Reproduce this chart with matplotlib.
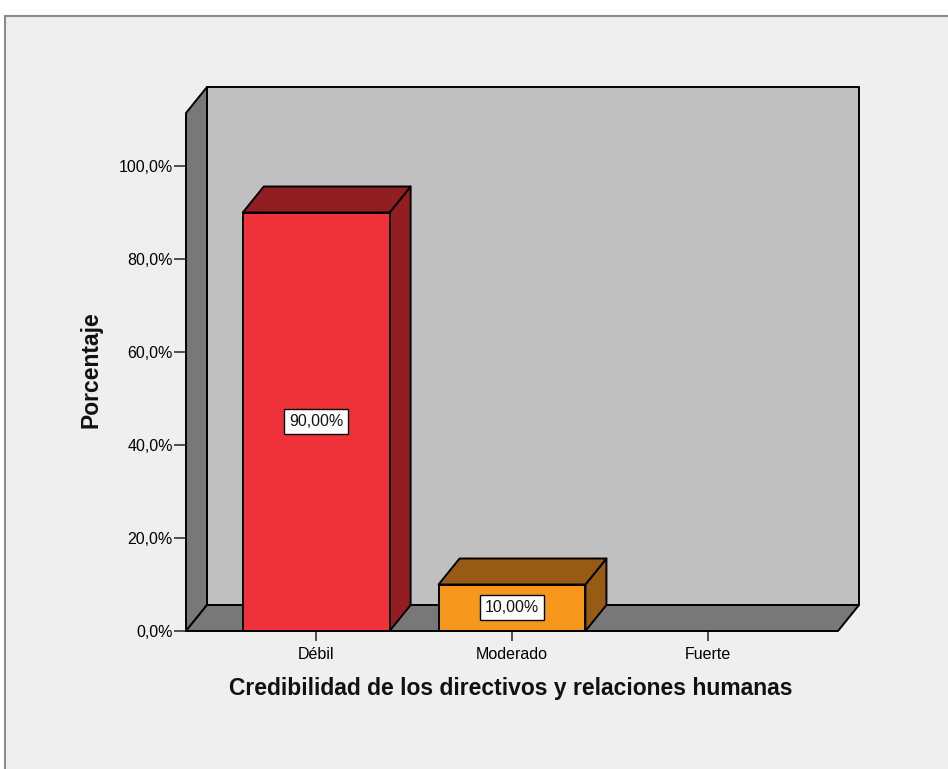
import matplotlib.pyplot as plt
from matplotlib.patches import Polygon, Rectangle

plt.rcParams['font.family'] = ['Liberation Sans', 'DejaVu Sans']

categorias = ['Débil', 'Moderado', 'Fuerte']
porcentajes = [90.0, 10.0, 0.0]
etiquetas = ['90,00%', '10,00%', None]
yticks = [0, 20, 40, 60, 80, 100]
ytick_labels = ['0,0%', '20,0%', '40,0%', '60,0%', '80,0%', '100,0%']

frente = ['#EF3139', '#F7981D', '#7FA0C8']
sombra = ['#921E22', '#985B14', '#4D6A8F']

W, H = 948, 769
fig = plt.figure(figsize=(W / 100, H / 100), dpi=100, facecolor='white')

# grey panel behind the chart
panel = Rectangle((5 / W, -0.05), 1.2, 1 - 16 / H + 0.05,
                  transform=fig.transFigure, facecolor='#EFEFEF',
                  edgecolor='#8C8C8C', linewidth=1.5)
panel.set_zorder(-10)
fig.add_artist(panel)

ax = fig.add_axes([186 / W, (H - 631) / H, 652 / W, 518 / H])
ax.set_facecolor('none')
x0, x1 = -0.665, 2.665
ytop = 111.4
ax.set_xlim(x0, x1)
ax.set_ylim(0, ytop)

# depth of the 3D effect in data units
dx = 21 / (652 / (x1 - x0))
dy = 26 / (518 / ytop)

def poly(pts, fc, z):
    ax.add_patch(Polygon(pts, closed=True, facecolor=fc, edgecolor='black',
                         linewidth=1.4, joinstyle='round', clip_on=False, zorder=z))

# walls and floor
poly([(x0 + dx, dy), (x1 + dx, dy), (x1 + dx, ytop + dy), (x0 + dx, ytop + dy)], '#C0C0C0', 1)
poly([(x0, 0), (x0 + dx, dy), (x0 + dx, ytop + dy), (x0, ytop)], '#787878', 2)
poly([(x0, 0), (x1, 0), (x1 + dx, dy), (x0 + dx, dy)], '#787878', 2)

# bars
hw = 0.375
for i, v in enumerate(porcentajes):
    if v <= 0:
        continue
    l, r = i - hw, i + hw
    poly([(r, 0), (r + dx, dy), (r + dx, v + dy), (r, v)], sombra[i], 3)
    poly([(l, v), (r, v), (r + dx, v + dy), (l + dx, v + dy)], sombra[i], 3)
    poly([(l, 0), (r, 0), (r, v), (l, v)], frente[i], 4)
    if etiquetas[i]:
        ax.text(i, v / 2, etiquetas[i], ha='center', va='center', fontsize=11.5,
                color='#111111', zorder=6,
                bbox=dict(boxstyle='square,pad=0.3', facecolor='white',
                          edgecolor='black', linewidth=1.0))

for s in ax.spines.values():
    s.set_visible(False)

ax.set_yticks(yticks)
ax.set_yticklabels(ytick_labels)
ax.set_xticks(range(len(categorias)))
ax.set_xticklabels(categorias)
ax.tick_params(axis='y', length=8.6, width=1.2, pad=1, labelsize=11.5, color='#333333')
ax.tick_params(axis='x', length=7.2, width=1.2, pad=4, labelsize=11.5, color='#333333')

fig.text(511 / W, 1 - 689 / H, 'Credibilidad de los directivos y relaciones humanas',
         ha='center', va='center', fontsize=16.5, fontweight='bold', color='#111111')
fig.text(91 / W, 1 - 370 / H, 'Porcentaje', ha='center', va='center', rotation=90,
         fontsize=16.5, fontweight='bold', color='#111111')

fig.savefig('out.png', dpi=100, facecolor='white')
